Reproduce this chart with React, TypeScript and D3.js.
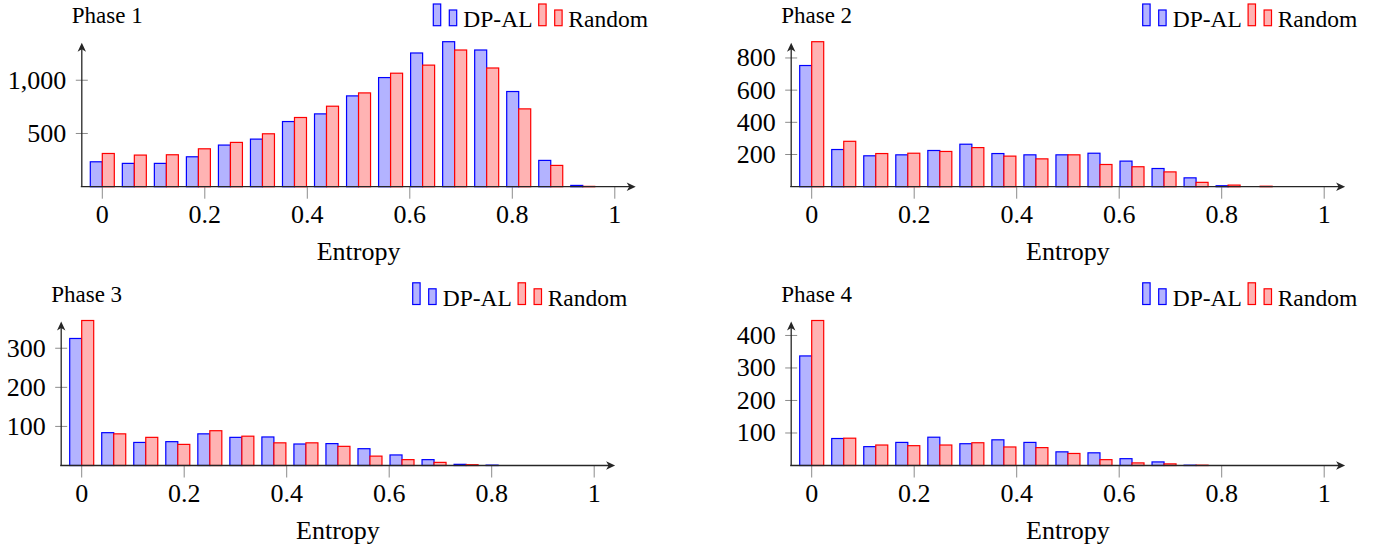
import React from "react";
import * as d3 from "d3";

// Bin centres (entropy)
const bins = [0, 0.0625, 0.125, 0.1875, 0.25, 0.3125, 0.375, 0.4375, 0.5, 0.5625, 0.625, 0.6875, 0.75, 0.8125, 0.875, 0.9375];
const xTicks = [0, 0.2, 0.4, 0.6, 0.8, 1];
const xTickLabels = ["0", "0.2", "0.4", "0.6", "0.8", "1"];

const phase1DPAL = [234, 219, 219, 281, 391, 447, 612, 684, 853, 1025, 1256, 1362, 1284, 894, 247, 12];
const phase1Random = [312, 297, 300, 356, 416, 497, 650, 756, 881, 1066, 1142, 1284, 1115, 731, 200, 3];
const phase2DPAL = [753, 231, 192, 198, 225, 264, 206, 198, 198, 208, 159, 113, 55, 6, 0, 0];
const phase2Random = [901, 282, 206, 208, 219, 243, 190, 173, 198, 138, 124, 92, 27, 10, 3, 0];
const phase3DPAL = [325, 84, 59, 61, 81, 72, 73, 55, 56, 43, 27, 15, 3, 1, 0, 0];
const phase3Random = [371, 81, 72, 54, 89, 75, 58, 58, 49, 24, 15, 8, 2, 0, 0, 0];
const phase4DPAL = [337, 83, 58, 71, 87, 67, 79, 71, 42, 39, 21, 11, 1, 0, 0, 0];
const phase4Random = [446, 84, 63, 61, 63, 70, 57, 55, 37, 18, 8, 5, 1, 0, 0, 0];

const titles = ["Phase 1", "Phase 2", "Phase 3", "Phase 4"];
const yTicks1 = [500, 1000];
const yTicks2 = [200, 400, 600, 800];
const yTicks3 = [100, 200, 300];
const yTicks4 = [100, 200, 300, 400];
const seriesNames = ["DP-AL", "Random"];

const SERIF = "'Liberation Serif', 'Times New Roman', serif";
const BLUE = "#0000ff";
const BLUE_FILL = "#b3b3ff";
const RED = "#ff0000";
const RED_FILL = "#ffb3b3";

type PanelProps = {
  title: string;
  a: number[];
  b: number[];
  ticks: number[];
  x0: number;
  axisY: number;
};

function Panel({ title, a, b, ticks, x0, axisY }: PanelProps) {
  const x = d3.scaleLinear().domain([0, 1]).range([x0, x0 + 512.5]);
  const yMax = d3.max([...a, ...b]) as number;
  const y = d3.scaleLinear().domain([0, yMax]).range([axisY, axisY - 145]);
  const bw = 12;
  const yAxisX = x0 - 20.5;
  const xTip = x0 + 533.4;
  const yTip = axisY - 144;
  const fmt = d3.format(",");
  const axisColor = "#262626";

  const bar = (v: number, cx: number, stroke: string, fill: string, key: string) => {
    if (v <= 0) return null;
    const top = y(v);
    return (
      <rect key={key} x={cx} y={top} width={bw} height={axisY - top}
        fill={fill} stroke={stroke} strokeWidth={1.2} />
    );
  };

  const legendBase = axisY - 161;
  const legendMark = (lx: number, stroke: string, fill: string, k: string) => (
    <g key={k}>
      <rect x={lx} y={axisY - 182.7} width={7.4} height={legendBase - (axisY - 182.7)} fill={fill} stroke={stroke} strokeWidth={1.2} />
      <rect x={lx + 16} y={axisY - 176.7} width={7.4} height={legendBase - (axisY - 176.7)} fill={fill} stroke={stroke} strokeWidth={1.2} />
    </g>
  );

  return (
    <g>
      {/* bars */}
      {bins.map((c, i) => bar(a[i], x(c) - bw, BLUE, BLUE_FILL, "a" + i))}
      {bins.map((c, i) => bar(b[i], x(c), RED, RED_FILL, "b" + i))}

      {/* x ticks */}
      {xTicks.map((t, i) => (
        <g key={"xt" + i}>
          <line x1={x(t)} x2={x(t)} y1={axisY} y2={axisY + 12} stroke="#8c8c8c" strokeWidth={1} />
          <text x={x(t)} y={axisY + 36.5} textAnchor="middle" fontFamily={SERIF} fontSize={26} fill="#000">
            {xTickLabels[i]}
          </text>
        </g>
      ))}
      {/* y ticks */}
      {ticks.map((t, i) => (
        <g key={"yt" + i}>
          <line x1={yAxisX - 6} x2={yAxisX + 6} y1={y(t)} y2={y(t)} stroke="#8c8c8c" strokeWidth={1} />
          <text x={yAxisX - 15.5} y={y(t) + 8.5} textAnchor="end" fontFamily={SERIF} fontSize={26} fill="#000">
            {fmt(t)}
          </text>
        </g>
      ))}

      {/* axes */}
      <line x1={yAxisX - 1} x2={xTip - 4} y1={axisY} y2={axisY} stroke={axisColor} strokeWidth={1.3} />
      <path d={`M${xTip},${axisY} L${xTip - 9},${axisY - 4.2} L${xTip - 6.5},${axisY} L${xTip - 9},${axisY + 4.2} Z`} fill={axisColor} />
      <line x1={yAxisX} x2={yAxisX} y1={axisY} y2={yTip + 4} stroke={axisColor} strokeWidth={1.3} />
      <path d={`M${yAxisX},${yTip} L${yAxisX - 4.2},${yTip + 9} L${yAxisX},${yTip + 6.5} L${yAxisX + 4.2},${yTip + 9} Z`} fill={axisColor} />

      {/* x label */}
      <text x={(x(0) + x(1)) / 2} y={axisY + 73.5} textAnchor="middle" fontFamily={SERIF} fontSize={26} fill="#000">
        Entropy
      </text>

      {/* title */}
      <text x={yAxisX - 10} y={axisY - 164} fontFamily={SERIF} fontSize={23} fill="#000">
        {title}
      </text>

      {/* legend */}
      {legendMark(xTip - 202.4, BLUE, BLUE_FILL, "lb")}
      <text x={xTip - 172.4} y={legendBase + 1} fontFamily={SERIF} fontSize={23.5} fill="#000">{seriesNames[0]}</text>
      {legendMark(xTip - 97, RED, RED_FILL, "lr")}
      <text x={xTip - 67.4} y={legendBase + 1} fontFamily={SERIF} fontSize={23.5} fill="#000">{seriesNames[1]}</text>
    </g>
  );
}

export default function App() {
  return (
    <svg width={1375} height={551} style={{ position: "absolute", left: 0, top: 0, background: "#fff" }}>
      <rect x={0} y={0} width={1375} height={551} fill="#fff" />
      <Panel title={titles[0]} a={phase1DPAL} b={phase1Random} ticks={yTicks1} x0={102.3} axisY={186.7} />
      <Panel title={titles[1]} a={phase2DPAL} b={phase2Random} ticks={yTicks2} x0={811.7} axisY={186.7} />
      <Panel title={titles[2]} a={phase3DPAL} b={phase3Random} ticks={yTicks3} x0={81.7} axisY={465.5} />
      <Panel title={titles[3]} a={phase4DPAL} b={phase4Random} ticks={yTicks4} x0={811.7} axisY={465.5} />
    </svg>
  );
}
